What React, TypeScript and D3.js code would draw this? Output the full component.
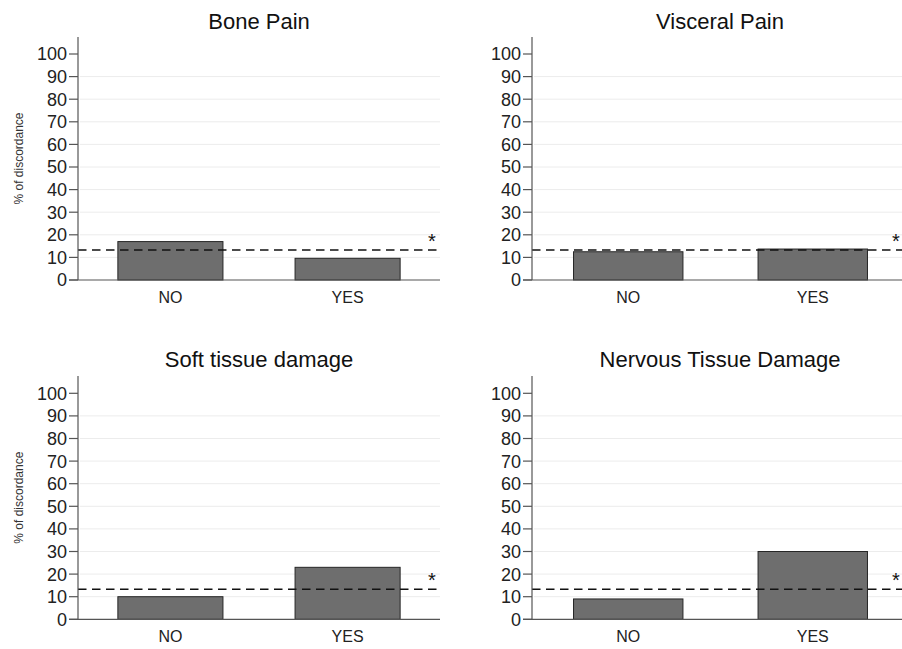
import React from "react";
import * as d3 from "d3";

const titles = ["Bone Pain", "Visceral Pain", "Soft tissue damage", "Nervous Tissue Damage"];
const categories = ["NO", "YES"];
const boneValues = [17, 9.6];
const visceralValues = [12.5, 13.7];
const softValues = [10, 23];
const nervousValues = [9, 30];
const referenceValue = 13.3;
const yTicks = [0, 10, 20, 30, 40, 50, 60, 70, 80, 90, 100];
const gridTicks = [10, 20, 30, 40, 50, 60, 70, 80, 90];
const yAxisTitle = "% of discordance";

const seriesList = [boneValues, visceralValues, softValues, nervousValues];

const layouts = [
  { x0: 78, x1: 440, yZero: 280, yHundred: 54, axisTop: 37, titleY: 29, titleX: 259, starX: 432, showYTitle: true },
  { x0: 532, x1: 909, yZero: 280, yHundred: 54, axisTop: 37, titleY: 29, titleX: 720, starX: 896, showYTitle: false },
  { x0: 78, x1: 440, yZero: 619.3, yHundred: 393.3, axisTop: 376, titleY: 367, titleX: 259, starX: 432, showYTitle: true },
  { x0: 532, x1: 909, yZero: 619.3, yHundred: 393.3, axisTop: 376, titleY: 367, titleX: 720, starX: 896, showYTitle: false },
];

const FONT = "Liberation Sans, Arial, Helvetica, sans-serif";

function Panel({ idx }: { idx: number }) {
  const L = layouts[idx];
  const values = seriesList[idx];
  const y = d3.scaleLinear().domain([0, 100]).range([L.yZero, L.yHundred]);
  const x = d3
    .scaleBand<string>()
    .domain(categories)
    .range([L.x0, L.x1])
    .paddingInner(0.407)
    .paddingOuter(0.225);
  const refY = y(referenceValue);
  return (
    <g>
      <text x={L.titleX} y={L.titleY} textAnchor="middle" fontSize={22} fill="#111" fontFamily={FONT}>
        {titles[idx]}
      </text>
      {gridTicks.map((t) => (
        <line key={"g" + t} x1={L.x0 + 2} x2={L.x1} y1={y(t)} y2={y(t)} stroke="#ececec" strokeWidth={1} />
      ))}
      {values.map((v, i) => (
        <rect
          key={"b" + i}
          x={x(categories[i])}
          y={y(v)}
          width={x.bandwidth()}
          height={y(0) - y(v)}
          fill="#6e6e6e"
          stroke="#262626"
          strokeWidth={1}
        />
      ))}
      <line x1={L.x0} x2={L.x1} y1={refY} y2={refY} stroke="#111" strokeWidth={1.6} strokeDasharray="8.5,5.5" />
      <text x={L.starX} y={refY - 2} textAnchor="middle" fontSize={20} fill="#111" fontFamily={FONT}>
        *
      </text>
      <line x1={L.x0} x2={L.x0} y1={L.axisTop} y2={L.yZero} stroke="#555" strokeWidth={1.2} />
      <line x1={L.x0 - 9} x2={L.x1} y1={L.yZero} y2={L.yZero} stroke="#555" strokeWidth={1.2} />
      {yTicks.map((t) => (
        <g key={"t" + t}>
          <line x1={L.x0 - 9} x2={L.x0} y1={y(t)} y2={y(t)} stroke="#555" strokeWidth={1.2} />
          <text x={L.x0 - 11} y={y(t)} dy="0.36em" textAnchor="end" fontSize={18} fill="#222" fontFamily={FONT}>
            {t}
          </text>
        </g>
      ))}
      {categories.map((c) => (
        <text
          key={"c" + c}
          x={(x(c) as number) + x.bandwidth() / 2}
          y={L.yZero + 23}
          textAnchor="middle"
          fontSize={16}
          fill="#222"
          fontFamily={FONT}
        >
          {c}
        </text>
      ))}
      {L.showYTitle && (
        <text
          transform={`translate(23,${(L.axisTop + L.yZero) / 2}) rotate(-90)`}
          textAnchor="middle"
          fontSize={12}
          fill="#333"
          fontFamily={FONT}
        >
          {yAxisTitle}
        </text>
      )}
    </g>
  );
}

export default function App() {
  return (
    <svg
      width={902}
      height={649}
      style={{ position: "absolute", left: 0, top: 0, background: "#fff" }}
    >
      <rect x={0} y={0} width={902} height={649} fill="#fff" />
      {[0, 1, 2, 3].map((i) => (
        <Panel key={i} idx={i} />
      ))}
    </svg>
  );
}
